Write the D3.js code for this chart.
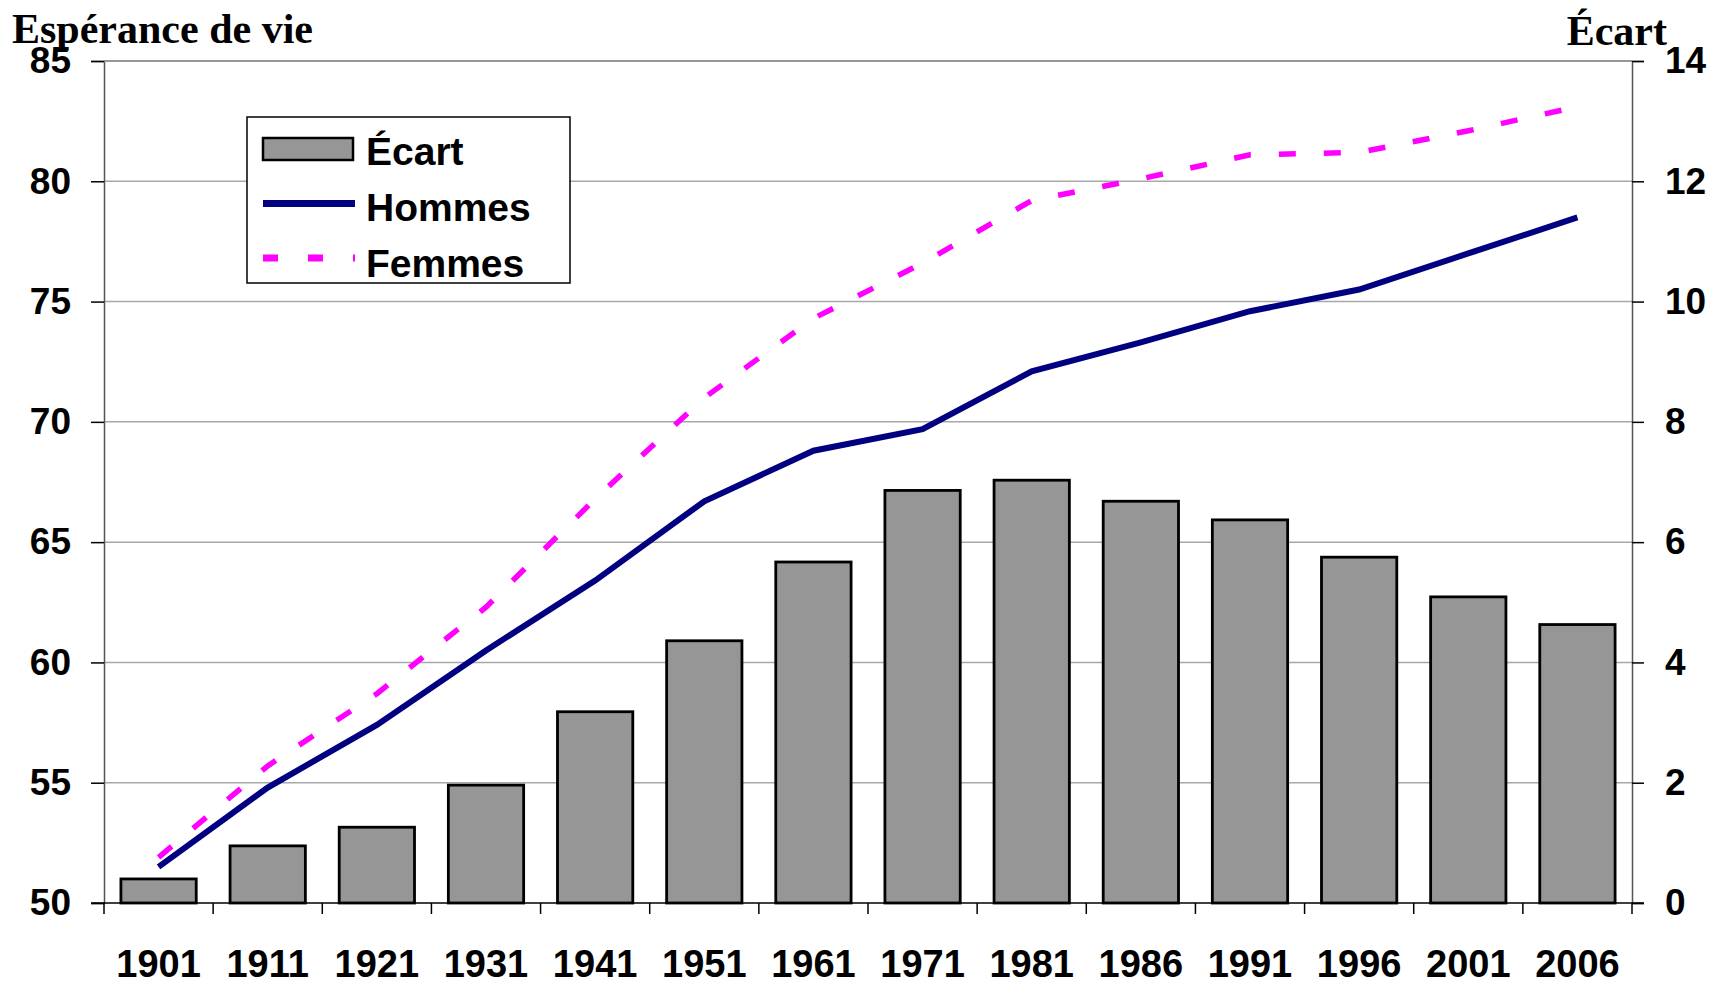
<!DOCTYPE html>
<html>
<head>
<meta charset="utf-8">
<script src="https://cdn.jsdelivr.net/npm/d3@7"></script>
<style>
  html, body { margin: 0; padding: 0; background: #fff; }
  svg { display: block; }
</style>
</head>
<body>
<svg id="chart" width="1724" height="982"></svg>
<script>
const years = ["1901","1911","1921","1931","1941","1951","1961","1971","1981","1986","1991","1996","2001","2006"];
const ecart = [0.40, 0.95, 1.26, 1.96, 3.18, 4.36, 5.67, 6.86, 7.03, 6.68, 6.37, 5.75, 5.09, 4.63];
const hommes = [51.5, 54.8, 57.4, 60.5, 63.4, 66.7, 68.8, 69.7, 72.1, 73.3, 74.6, 75.5, 77.0, 78.5];
const femmes = [51.9, 55.7, 58.7, 62.3, 66.8, 71.0, 74.3, 76.6, 79.2, 80.1, 81.1, 81.2, 82.1, 83.1];
const leftTicks = [50, 55, 60, 65, 70, 75, 80, 85];
const rightTicks = [0, 2, 4, 6, 8, 10, 12, 14];
const seriesNames = ["Écart", "Hommes", "Femmes"];

const svg = d3.select("#chart");
const L = 104, R = 1632, T = 61, B = 903;

const x = d3.scaleBand().domain(years).range([L, R]).padding(0);
const yL = d3.scaleLinear().domain([50, 85]).range([B, T]);
const yR = d3.scaleLinear().domain([0, 14]).range([B, T]);
const barW = x.bandwidth() * 0.69;

// gridlines
svg.append("g").selectAll("line").data(leftTicks.filter(d => d > 50)).join("line")
  .attr("x1", L).attr("x2", R)
  .attr("y1", d => yL(d)).attr("y2", d => yL(d))
  .attr("stroke", "#a8a8a8").attr("stroke-width", 1.5);

// bars
svg.append("g").selectAll("rect").data(ecart).join("rect")
  .attr("x", (d, i) => x(years[i]) + (x.bandwidth() - barW) / 2)
  .attr("y", d => yR(d))
  .attr("width", barW)
  .attr("height", d => yR(0) - yR(d))
  .attr("fill", "#969696")
  .attr("stroke", "#000").attr("stroke-width", 2.8);

// lines
const lineL = d3.line().x((d, i) => x(years[i]) + x.bandwidth() / 2).y(d => yL(d));
svg.append("path").datum(hommes).attr("d", lineL)
  .attr("fill", "none").attr("stroke", "#000080").attr("stroke-width", 6)
  .attr("stroke-linejoin", "miter");
svg.append("path").datum(femmes).attr("d", lineL)
  .attr("fill", "none").attr("stroke", "#ff00ff").attr("stroke-width", 5.5)
  .attr("stroke-dasharray", "17 28");

// left axis
const axL = d3.axisLeft(yL).tickValues(leftTicks).tickSize(13).tickPadding(20);
const gL = svg.append("g").attr("transform", `translate(${L},0)`).call(axL);
gL.select(".domain").attr("stroke", "#555").attr("stroke-width", 1.5);
gL.selectAll(".tick line").attr("stroke", "#000").attr("stroke-width", 1.5);
gL.selectAll("text").attr("font-family", "Arial, 'Liberation Sans', sans-serif")
  .attr("font-weight", "bold").attr("font-size", 37).attr("fill", "#000");

// right axis
const axR = d3.axisRight(yR).tickValues(rightTicks).tickSize(12).tickPadding(21);
const gR = svg.append("g").attr("transform", `translate(${R},0)`).call(axR);
gR.select(".domain").attr("stroke", "#555").attr("stroke-width", 1.5);
gR.selectAll(".tick line").attr("stroke", "#000").attr("stroke-width", 1.5);
gR.selectAll("text").attr("font-family", "Arial, 'Liberation Sans', sans-serif")
  .attr("font-weight", "bold").attr("font-size", 37).attr("fill", "#000");

// top border (gridline 85 gray)
svg.append("line").attr("x1", L).attr("x2", R).attr("y1", T).attr("y2", T)
  .attr("stroke", "#8a8a8a").attr("stroke-width", 1.5);

// bottom axis
const gB = svg.append("g").attr("transform", `translate(0,${B})`);
gB.append("line").attr("x1", L - 13).attr("x2", R + 12).attr("stroke", "#000").attr("stroke-width", 1.5);
const bounds = years.map(d => x(d)).concat([R]);
gB.selectAll("line.tk").data(bounds).join("line").attr("class", "tk")
  .attr("x1", d => d).attr("x2", d => d).attr("y1", 0).attr("y2", 11)
  .attr("stroke", "#000").attr("stroke-width", 1.5);
gB.selectAll("text").data(years).join("text")
  .attr("x", d => x(d) + x.bandwidth() / 2).attr("y", 74)
  .attr("text-anchor", "middle")
  .attr("font-family", "Arial, 'Liberation Sans', sans-serif")
  .attr("font-weight", "bold").attr("font-size", 38).attr("fill", "#000")
  .text(d => d);

// axis titles
svg.append("text").attr("x", 12).attr("y", 43)
  .attr("font-family", "'Times New Roman', 'Liberation Serif', serif")
  .attr("font-weight", "bold").attr("font-size", 42).text("Espérance de vie");
svg.append("text").attr("x", 1667).attr("y", 45).attr("text-anchor", "end")
  .attr("font-family", "'Times New Roman', 'Liberation Serif', serif")
  .attr("font-weight", "bold").attr("font-size", 42).text("Écart");

// legend
const lg = svg.append("g");
lg.append("rect").attr("x", 247).attr("y", 117).attr("width", 323).attr("height", 166)
  .attr("fill", "#fff").attr("stroke", "#000").attr("stroke-width", 1.5);
lg.append("rect").attr("x", 263).attr("y", 138).attr("width", 90).attr("height", 22)
  .attr("fill", "#969696").attr("stroke", "#000").attr("stroke-width", 2.5);
lg.append("line").attr("x1", 263).attr("x2", 355).attr("y1", 203.5).attr("y2", 203.5)
  .attr("stroke", "#000080").attr("stroke-width", 7);
lg.append("line").attr("x1", 263).attr("x2", 355).attr("y1", 258).attr("y2", 258)
  .attr("stroke", "#ff00ff").attr("stroke-width", 7).attr("stroke-dasharray", "15 30");
lg.selectAll("text").data(seriesNames).join("text")
  .attr("x", 366).attr("y", (d, i) => 165 + i * 56)
  .attr("font-family", "Arial, 'Liberation Sans', sans-serif")
  .attr("font-weight", "bold").attr("font-size", 39).attr("fill", "#000")
  .text(d => d);
</script>
</body>
</html>
